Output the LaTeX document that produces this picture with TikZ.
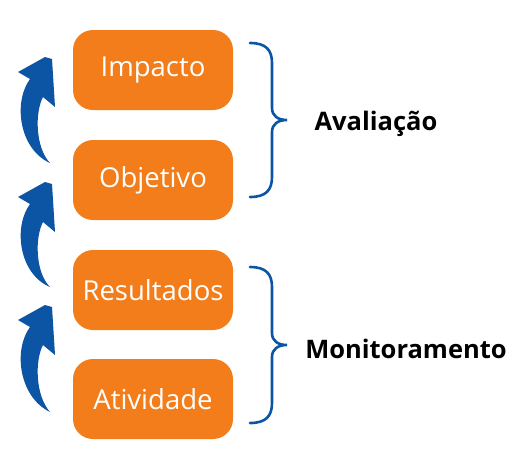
\documentclass[tikz,border=0pt]{standalone}
\usepackage{fontspec}
\setmainfont{Open Sans}
\usetikzlibrary{calc}
\definecolor{boxorange}{RGB}{242,125,26}
\definecolor{linkblue}{RGB}{12,84,164}
\begin{document}
\begin{tikzpicture}[x=1pt, y=1pt,
    stage/.style={fill=boxorange, text=white, rounded corners=20pt, minimum width=160pt, minimum height=80pt, inner sep=0pt, font=\fontsize{27.5}{32}\selectfont},
    group/.style={font=\fontsize{25.5}{30}\selectfont\bfseries},
    uparrow/.style={fill=linkblue, to path={
        .. controls ($(\tikztotarget)+(-12,-90)$) and ($(\tikztotarget)+(-12,-55)$) .. ($(\tikztotarget)+(-4,-40)$)
        -- ($(\tikztotarget)+(8,-50)$) -- ($(\tikztotarget)+(5,-2)$) -- ($(\tikztotarget)+(-2,0)$)
        -- ($(\tikztotarget)+(-29,-15)$) -- ($(\tikztotarget)+(-17,-22)$)
        .. controls ($(\tikztotarget)+(-34,-45)$) and ($(\tikztotarget)+(-28,-92)$) .. (\tikztostart) -- cycle}},
    bracket/.style={draw=linkblue, line width=2.6pt, line cap=round, to path={
        .. controls ($(\tikztostart)+(16,0)$) and ($(\tikztostart)+(22,-7)$) .. ($(\tikztostart)+(22,-20)$)
        -- ($(\tikztostart)!.5!(\tikztotarget)+(22,12)$)
        .. controls ($(\tikztostart)!.5!(\tikztotarget)+(22,4)$) and ($(\tikztostart)!.5!(\tikztotarget)+(28,0)$) .. ($(\tikztostart)!.5!(\tikztotarget)+(37,0)$)
        .. controls ($(\tikztostart)!.5!(\tikztotarget)+(28,0)$) and ($(\tikztostart)!.5!(\tikztotarget)+(22,-4)$) .. ($(\tikztostart)!.5!(\tikztotarget)+(22,-12)$)
        -- ($(\tikztotarget)+(22,20)$)
        .. controls ($(\tikztotarget)+(22,7)$) and ($(\tikztotarget)+(16,0)$) .. (\tikztotarget)}}]

    \useasboundingbox (0,0) rectangle (518,-467);

    \node[stage] (impacto) at (153,-70) {Impacto};
    \node[stage] (objetivo) at (153,-180) {Objetivo};
    \node[stage] (resultados) at (153,-290) {Resultados};
    \node[stage] (atividade) at (153,-399) {Atividade};

    % arrows on the left
    \coordinate (s1) at (50,-163);
    \coordinate (t1) at (47,-57);
    \coordinate (s2) at (50,-287);
    \coordinate (t2) at (47,-182);
    \coordinate (s3) at (50,-412);
    \coordinate (t3) at (47,-305);

    \path[uparrow] (s1) to (t1);
    \path[uparrow] (s2) to (t2);
    \path[uparrow] (s3) to (t3);

    % braces
    \coordinate (b1) at (250,-43);
    \coordinate (b2) at (250,-197);
    \coordinate (b3) at (250,-267);
    \coordinate (b4) at (250,-423);

    \draw[bracket] (b1) to (b2);
    \draw[bracket] (b3) to (b4);

    \node[group] (aval) at (376,-124) {Avaliação};
    \node[group] (monit) at (406,-349) {Monitoramento};

\end{tikzpicture}
\end{document}
